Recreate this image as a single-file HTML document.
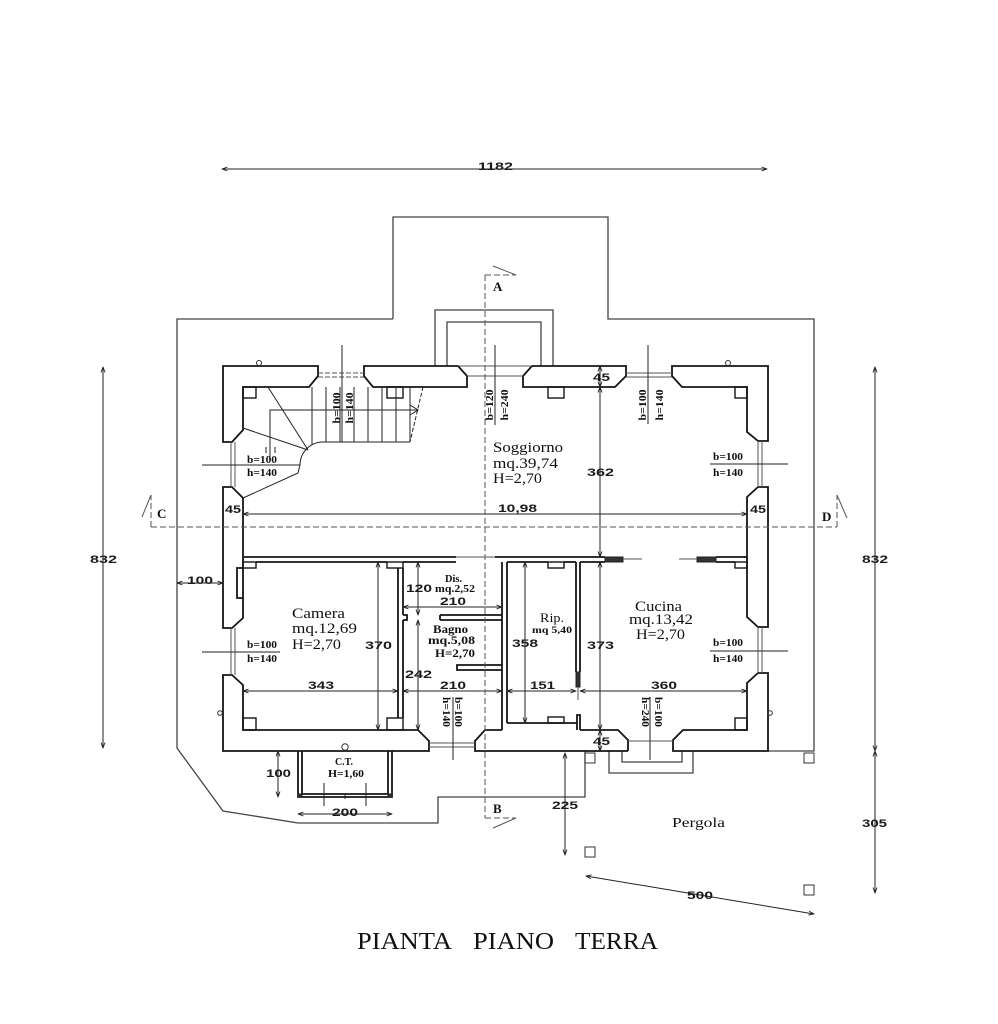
<!DOCTYPE html>
<html><head><meta charset="utf-8"><style>
html,body{margin:0;padding:0;background:#fff;}
svg{display:block;}
.d{font-family:"Liberation Sans",sans-serif;font-weight:bold;font-size:11px;fill:#1a1a1a;}
.r{font-family:"Liberation Serif",serif;font-size:15px;fill:#111;}
.b{font-family:"Liberation Serif",serif;font-weight:bold;font-size:10px;fill:#111;}
.t{font-family:"Liberation Serif",serif;font-size:24px;fill:#111;}
</style></head><body>
<svg width="998" height="1024" viewBox="0 0 998 1024" xmlns="http://www.w3.org/2000/svg">
<defs>
<marker id="a" markerWidth="6" markerHeight="6" refX="5.5" refY="3" orient="auto-start-reverse" markerUnits="userSpaceOnUse"><path d="M0,1 L5.5,3 L0,5" fill="none" stroke="#222" stroke-width="0.9"/></marker>
</defs>
<rect width="998" height="1024" fill="#fff"/>

<!-- site outline -->
<g fill="none" stroke="#444" stroke-width="1.3">
<path d="M393,319 L393,217 L608,217 L608,319 L814,319 L814,751 L768,751"/>
<path d="M585,751 L585,797 L438,797 L438,823 L298,823 L223,811 L177,748 L177,319 L393,319"/>
<!-- porch -->
<path d="M435,366 L435,310 L553,310 L553,366"/>
<path d="M447,366 L447,322 L541,322 L541,366"/>
<!-- steps outside kitchen -->
<path d="M609,751 L609,773 L693,773 L693,751"/>
<path d="M622,751 L622,762 L682,762 L682,751"/>
</g>

<!-- house walls -->
<g fill="none" stroke="#151515" stroke-width="1.8" stroke-linejoin="miter">
<path d="M223,442 L223,366 L318,366 L318,376 L309,387 L243,387 L243,430 L232,442 Z"/>
<path d="M364,366 L458,366 L467,376 L467,387 L373,387 L364,376 Z"/>
<path d="M532,366 L626,366 L626,376 L615,387 L523,387 L523,376 Z"/>
<path d="M672,366 L768,366 L768,441 L758,441 L747,432 L747,387 L682,387 L672,376 Z"/>
<path d="M768,487 L768,627 L758,627 L747,617 L747,497 L758,487 Z"/>
<path d="M768,673 L768,751 L673,751 L673,740 L683,730 L747,730 L747,683 L758,673 Z"/>
<path d="M628,751 L475,751 L475,741 L485,730 L502,730"/>
<path d="M507,723 L577,723"/>
<path d="M580,730 L618,730 L628,740 L628,751"/>
<path d="M429,751 L223,751 L223,675 L232,675 L243,685 L243,730 L418,730 L429,741 Z"/>
<path d="M223,487 L223,628 L232,628 L243,618 L243,498 L232,487 Z"/>
<!-- interior walls -->
<path d="M243,557 L456,557"/>
<path d="M256,562 L387,562"/>
<path d="M403,562 L456,562"/>
<path d="M495,557 L605,557"/>
<path d="M507,562 L548,562 M564,562 L576,562 M580,562 L605,562"/>
<path d="M716,557 L747,557 M716,562 L735,562"/>
<path d="M398,568 L398,718"/>
<path d="M403,568 L403,615 M403,620 L403,718"/>
<path d="M403,615 L407,615 L407,620 L403,620"/>
<path d="M440,615 L502,615 M440,620 L502,620 M440,615 L440,620"/>
<path d="M502,562 L502,730"/>
<path d="M507,562 L507,723"/>
<path d="M502,665 L457,665 L457,670 L502,670"/>
<path d="M576,562 L576,672 M580,562 L580,672"/>
<path d="M577,730 L577,715 L580,715 L580,730"/>
<!-- CT -->
<path d="M298,751 L298,797 L392,797 L392,751"/>
<path d="M302,751 L302,794 L388,794 L388,751"/>
<!-- niche -->
<path d="M243,568 L237,568 L237,598 L243,598"/>
</g>
<g fill="none" stroke="#151515" stroke-width="1.4">
<rect x="243" y="387" width="13" height="11"/>
<rect x="387" y="387" width="16" height="11"/>
<rect x="548" y="387" width="16" height="11"/>
<rect x="735" y="387" width="12" height="11"/>
<rect x="243" y="562" width="13" height="6"/>
<rect x="387" y="562" width="16" height="6"/>
<rect x="548" y="562" width="16" height="6"/>
<rect x="735" y="562" width="12" height="6"/>
<rect x="243" y="718" width="13" height="12"/>
<rect x="387" y="718" width="16" height="12"/>
<rect x="548" y="717" width="16" height="6"/>
<rect x="735" y="718" width="12" height="12"/>
</g>
<!-- door leaves -->
<g fill="#333" stroke="#222" stroke-width="1">
<rect x="605" y="557" width="18" height="5"/>
<rect x="697" y="557" width="19" height="5"/>
<rect x="576" y="672" width="4" height="15"/>
<rect x="298" y="794" width="4" height="3"/>
<rect x="388" y="794" width="4" height="3"/>
</g>
<g fill="none" stroke="#555" stroke-width="1">
<path d="M623,559 L642,559 M679,559 L697,559"/>
<path d="M578,687 L578,700"/>
<path d="M456,557 L495,557"/>
<!-- glazing -->
<path d="M318,373 L364,373 M318,377 L364,377" stroke-dasharray="5,2"/>
<path d="M626,373 L672,373 M626,377 L672,377"/>
<path d="M458,366 L532,366 M467,376 L523,376"/>
<path d="M231,442 L231,487 M235,442 L235,487"/>
<path d="M231,628 L231,675 M235,628 L235,675"/>
<path d="M758,441 L758,487 M762,441 L762,487"/>
<path d="M758,627 L758,673 M762,627 L762,673"/>
<path d="M429,743 L475,743 M429,747 L475,747"/>
<path d="M628,741 L673,741"/>
</g>

<!-- stairs -->
<g fill="none" stroke="#222" stroke-width="1">
<path d="M312,387 L312,445 M326,387 L326,442 M340,387 L340,442 M354,387 L354,442 M368,387 L368,442 M382,387 L382,442 M396,387 L396,442 M410,387 L410,442"/>
<path d="M323,442 L410,442"/>
<path d="M423,387 L410,442" stroke-dasharray="4,2"/>
<path d="M323,442 A23,23 0 0 0 300,465 L298,473 L243,498"/>
<path d="M268,387 L308,450 M243,428 L308,450"/>
<path d="M270,457 L270,410 L418,410 M410,405 L418,410 L410,415"/>
<path d="M266,447 L266,453 M275,447 L275,453"/>
</g>

<!-- window indicator lines -->
<g fill="none" stroke="#222" stroke-width="1">
<path d="M342,345 L342,442 M495,345 L495,425 M648,345 L648,424"/>
<path d="M202,465 L300,465 M710,464 L788,464 M202,652 L280,652 M710,651 L788,651"/>
<path d="M453,697 L453,760 M650,697 L650,760"/>
<path d="M324,783 L324,806 M366,783 L366,806 M345,795 L345,799"/>
</g>

<!-- dimension lines -->
<g fill="none" stroke="#222" stroke-width="1" marker-start="url(#a)" marker-end="url(#a)">
<path d="M222,169 L767,169"/>
<path d="M103,367 L103,748"/>
<path d="M875,367 L875,751"/>
<path d="M875,751 L875,893"/>
<path d="M243,514 L747,514"/>
<path d="M600,366 L600,387"/>
<path d="M600,387 L600,557"/>
<path d="M600,562 L600,730"/>
<path d="M600,730 L600,751"/>
<path d="M378,562 L378,730"/>
<path d="M418,562 L418,615"/>
<path d="M418,620 L418,730"/>
<path d="M525,562 L525,723"/>
<path d="M243,691 L398,691"/>
<path d="M403,691 L502,691"/>
<path d="M507,691 L576,691"/>
<path d="M580,691 L747,691"/>
<path d="M403,607 L502,607"/>
<path d="M177,583 L223,583"/>
<path d="M278,751 L278,797"/>
<path d="M298,814 L392,814"/>
<path d="M565,753 L565,855"/>
<path d="M586,876 L814,914"/>
</g>

<!-- section lines -->
<g fill="none" stroke="#555" stroke-width="1" stroke-dasharray="6,3">
<path d="M485,275 L485,818"/>
<path d="M485,275 L516,275 M485,818 L516,818"/>
<path d="M151,527 L837,527"/>
<path d="M151,527 L151,495 M837,527 L837,495"/>
</g>
<g fill="none" stroke="#555" stroke-width="1">
<path d="M493,266 L516,275 M493,828 L516,818 M142,517 L151,495 M837,495 L847,518"/>
</g>

<!-- pergola posts & circles -->
<g fill="none" stroke="#333" stroke-width="1">
<rect x="585" y="753" width="10" height="10"/>
<rect x="804" y="753" width="10" height="10"/>
<rect x="585" y="847" width="10" height="10"/>
<rect x="804" y="885" width="10" height="10"/>
<circle cx="259" cy="363" r="2.5"/>
<circle cx="728" cy="363" r="2.5"/>
<circle cx="345" cy="747" r="3.2"/>
<circle cx="220" cy="713" r="2.3"/>
<circle cx="770" cy="713" r="2.3"/>
</g>

<!-- dimension texts -->
<text class="d" x="478" y="170" textLength="35" lengthAdjust="spacingAndGlyphs">1182</text>
<text class="d" x="90" y="563" textLength="27" lengthAdjust="spacingAndGlyphs">832</text>
<text class="d" x="862" y="563" textLength="26" lengthAdjust="spacingAndGlyphs">832</text>
<text class="d" x="862" y="827" textLength="25" lengthAdjust="spacingAndGlyphs">305</text>
<text class="d" x="225" y="513" textLength="16" lengthAdjust="spacingAndGlyphs">45</text>
<text class="d" x="750" y="513" textLength="16" lengthAdjust="spacingAndGlyphs">45</text>
<text class="d" x="498" y="512" textLength="39" lengthAdjust="spacingAndGlyphs">10,98</text>
<text class="d" x="593" y="381" textLength="17" lengthAdjust="spacingAndGlyphs">45</text>
<text class="d" x="593" y="745" textLength="17" lengthAdjust="spacingAndGlyphs">45</text>
<text class="d" x="587" y="476" textLength="27" lengthAdjust="spacingAndGlyphs">362</text>
<text class="d" x="587" y="649" textLength="27" lengthAdjust="spacingAndGlyphs">373</text>
<text class="d" x="365" y="649" textLength="27" lengthAdjust="spacingAndGlyphs">370</text>
<text class="d" x="308" y="689" textLength="26" lengthAdjust="spacingAndGlyphs">343</text>
<text class="d" x="440" y="689" textLength="26" lengthAdjust="spacingAndGlyphs">210</text>
<text class="d" x="530" y="689" textLength="25" lengthAdjust="spacingAndGlyphs">151</text>
<text class="d" x="651" y="689" textLength="26" lengthAdjust="spacingAndGlyphs">360</text>
<text class="d" x="440" y="605" textLength="26" lengthAdjust="spacingAndGlyphs">210</text>
<text class="d" x="406" y="592" textLength="26" lengthAdjust="spacingAndGlyphs">120</text>
<text class="d" x="405" y="678" textLength="27" lengthAdjust="spacingAndGlyphs">242</text>
<text class="d" x="512" y="647" textLength="26" lengthAdjust="spacingAndGlyphs">358</text>
<text class="d" x="187" y="584" textLength="26" lengthAdjust="spacingAndGlyphs">100</text>
<text class="d" x="266" y="777" textLength="25" lengthAdjust="spacingAndGlyphs">100</text>
<text class="d" x="332" y="816" textLength="26" lengthAdjust="spacingAndGlyphs">200</text>
<text class="d" x="552" y="809" textLength="26" lengthAdjust="spacingAndGlyphs">225</text>
<text class="d" x="687" y="899" textLength="26" lengthAdjust="spacingAndGlyphs">500</text>

<!-- room texts -->
<text class="r" x="493" y="452" textLength="70" lengthAdjust="spacingAndGlyphs">Soggiorno</text>
<text class="r" x="493" y="468" textLength="65" lengthAdjust="spacingAndGlyphs">mq.39,74</text>
<text class="r" x="493" y="483" textLength="49" lengthAdjust="spacingAndGlyphs">H=2,70</text>
<text class="r" x="292" y="618" textLength="53" lengthAdjust="spacingAndGlyphs">Camera</text>
<text class="r" x="292" y="633" textLength="65" lengthAdjust="spacingAndGlyphs">mq.12,69</text>
<text class="r" x="292" y="649" textLength="49" lengthAdjust="spacingAndGlyphs">H=2,70</text>
<text class="r" x="635" y="611" textLength="47" lengthAdjust="spacingAndGlyphs">Cucina</text>
<text class="r" x="629" y="624" textLength="64" lengthAdjust="spacingAndGlyphs">mq.13,42</text>
<text class="r" x="636" y="639" textLength="49" lengthAdjust="spacingAndGlyphs">H=2,70</text>
<text class="r" x="672" y="827" textLength="53" lengthAdjust="spacingAndGlyphs" style="font-size:14px">Pergola</text>
<text class="r" x="540" y="622" textLength="24" lengthAdjust="spacingAndGlyphs" style="font-size:13px">Rip.</text>
<text class="b" x="532" y="633" textLength="40" lengthAdjust="spacingAndGlyphs" style="font-size:9px">mq 5,40</text>
<text class="b" x="433" y="633" textLength="35" lengthAdjust="spacingAndGlyphs" style="font-size:12px">Bagno</text>
<text class="b" x="428" y="644" textLength="47" lengthAdjust="spacingAndGlyphs" style="font-size:12px">mq.5,08</text>
<text class="b" x="435" y="657" textLength="40" lengthAdjust="spacingAndGlyphs" style="font-size:12px">H=2,70</text>
<text class="b" x="445" y="582" textLength="17" lengthAdjust="spacingAndGlyphs">Dis.</text>
<text class="b" x="435" y="592" textLength="40" lengthAdjust="spacingAndGlyphs">mq.2,52</text>
<text class="b" x="335" y="765" textLength="18" lengthAdjust="spacingAndGlyphs">C.T.</text>
<text class="b" x="328" y="777" textLength="36" lengthAdjust="spacingAndGlyphs">H=1,60</text>
<text class="b" x="493" y="291" style="font-size:13px">A</text>
<text class="b" x="493" y="813" style="font-size:13px">B</text>
<text class="b" x="157" y="518" style="font-size:13px">C</text>
<text class="b" x="822" y="521" style="font-size:13px">D</text>

<!-- window labels horizontal -->
<text class="b" x="247" y="463" textLength="30" lengthAdjust="spacingAndGlyphs">b=100</text>
<text class="b" x="247" y="476" textLength="30" lengthAdjust="spacingAndGlyphs">h=140</text>
<text class="b" x="713" y="460" textLength="30" lengthAdjust="spacingAndGlyphs">b=100</text>
<text class="b" x="713" y="476" textLength="30" lengthAdjust="spacingAndGlyphs">h=140</text>
<text class="b" x="247" y="648" textLength="30" lengthAdjust="spacingAndGlyphs">b=100</text>
<text class="b" x="247" y="662" textLength="30" lengthAdjust="spacingAndGlyphs">h=140</text>
<text class="b" x="713" y="646" textLength="30" lengthAdjust="spacingAndGlyphs">b=100</text>
<text class="b" x="713" y="662" textLength="30" lengthAdjust="spacingAndGlyphs">h=140</text>

<!-- window labels rotated up -->
<text class="b" transform="translate(340,408) rotate(-90)" text-anchor="middle" textLength="31" lengthAdjust="spacingAndGlyphs">b=100</text>
<text class="b" transform="translate(353,408) rotate(-90)" text-anchor="middle" textLength="31" lengthAdjust="spacingAndGlyphs">h=140</text>
<text class="b" transform="translate(493,405) rotate(-90)" text-anchor="middle" textLength="31" lengthAdjust="spacingAndGlyphs">b=120</text>
<text class="b" transform="translate(508,405) rotate(-90)" text-anchor="middle" textLength="31" lengthAdjust="spacingAndGlyphs">h=240</text>
<text class="b" transform="translate(646,405) rotate(-90)" text-anchor="middle" textLength="31" lengthAdjust="spacingAndGlyphs">b=100</text>
<text class="b" transform="translate(663,405) rotate(-90)" text-anchor="middle" textLength="31" lengthAdjust="spacingAndGlyphs">h=140</text>
<!-- rotated down -->
<text class="b" transform="translate(455,712) rotate(90)" text-anchor="middle" textLength="30" lengthAdjust="spacingAndGlyphs">b=100</text>
<text class="b" transform="translate(443,712) rotate(90)" text-anchor="middle" textLength="30" lengthAdjust="spacingAndGlyphs">h=140</text>
<text class="b" transform="translate(655,712) rotate(90)" text-anchor="middle" textLength="30" lengthAdjust="spacingAndGlyphs">b=100</text>
<text class="b" transform="translate(642,712) rotate(90)" text-anchor="middle" textLength="30" lengthAdjust="spacingAndGlyphs">h=240</text>

<!-- title -->
<text class="t" x="357" y="949" textLength="95" lengthAdjust="spacingAndGlyphs">PIANTA</text>
<text class="t" x="473" y="949" textLength="81" lengthAdjust="spacingAndGlyphs">PIANO</text>
<text class="t" x="575" y="949" textLength="83" lengthAdjust="spacingAndGlyphs">TERRA</text>
</svg>
</body></html>
